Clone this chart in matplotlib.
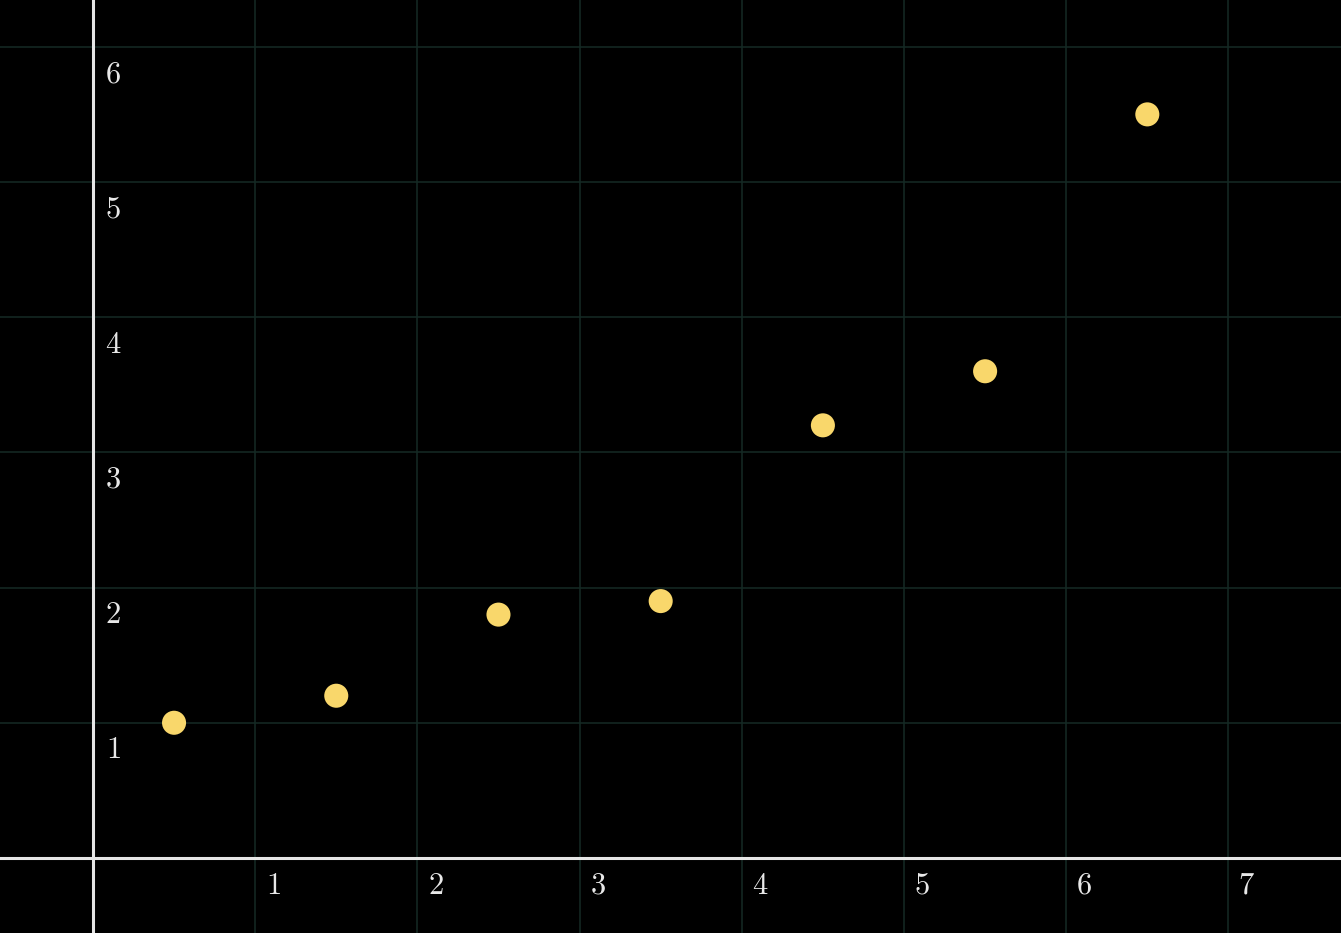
import matplotlib.pyplot as plt
import numpy as np

plt.rcParams['mathtext.fontset'] = 'cm'

# data points
x = [0.5, 1.5, 2.5, 3.5, 4.5, 5.5, 6.5]
y = [1.0, 1.2, 1.8, 1.9, 3.2, 3.6, 5.5]

xticks = [1, 2, 3, 4, 5, 6, 7]
yticks = [1, 2, 3, 4, 5, 6]

fig = plt.figure(figsize=(13.41, 9.33), dpi=100)
fig.patch.set_facecolor('black')
ax = fig.add_axes([0, 0, 1, 1])
ax.set_facecolor('black')
ax.set_xlim(-0.573, 7.694)
ax.set_ylim(-0.555, 6.346)

# grid
for t in xticks:
    ax.axvline(t, color='#152a25', lw=1.1, zorder=1)
for t in yticks:
    ax.axhline(t, color='#152a25', lw=1.1, zorder=1)

# axes
ax.axhline(0, color='#e6e6e6', lw=2.2, zorder=2)
ax.axvline(0, color='#e6e6e6', lw=2.2, zorder=2)

# tick labels
for t in xticks:
    ax.annotate('$%d$' % t, (t, 0), xytext=(13, -19.5), textcoords='offset points',
                ha='center', va='center', color='#e8e8e8', fontsize=22)
for t in yticks:
    ax.annotate('$%d$' % t, (0, t), xytext=(14.5, -19.5), textcoords='offset points',
                ha='center', va='center', color='#e8e8e8', fontsize=22)

ax.scatter(x, y, s=300, color='#f9d76b', edgecolors='none', zorder=3)

ax.axis('off')
fig.savefig('out.png', dpi=100, facecolor='black')
